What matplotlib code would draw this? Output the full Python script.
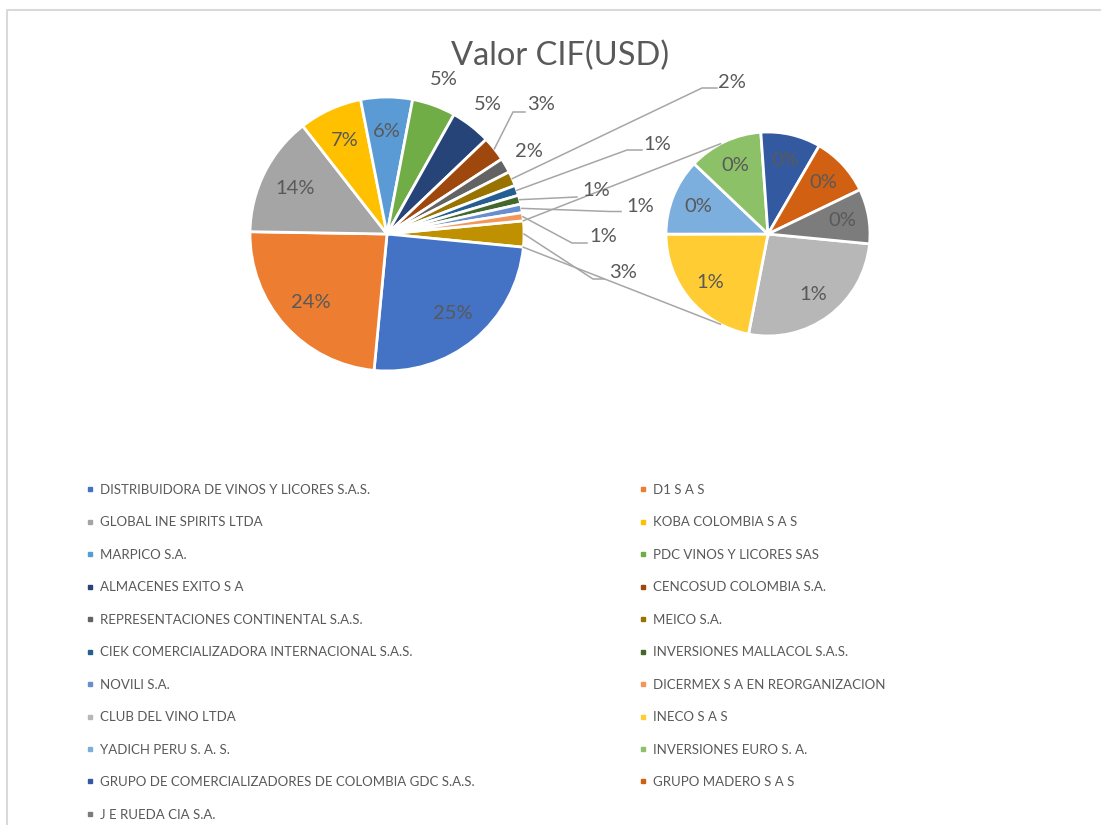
import numpy as np
import matplotlib
matplotlib.use("Agg")
import matplotlib.pyplot as plt
from matplotlib.lines import Line2D

# datos (porcentaje aproximado del valor CIF)
empresas = [
    "DISTRIBUIDORA DE VINOS Y LICORES S.A.S.", "D1 S A S",
    "GLOBAL INE SPIRITS LTDA", "KOBA COLOMBIA S A S",
    "MARPICO S.A.", "PDC VINOS Y LICORES SAS",
    "ALMACENES EXITO S A", "CENCOSUD COLOMBIA S.A.",
    "REPRESENTACIONES CONTINENTAL S.A.S.", "MEICO S.A.",
    "CIEK COMERCIALIZADORA INTERNACIONAL S.A.S.", "INVERSIONES MALLACOL S.A.S.",
    "NOVILI S.A.", "DICERMEX S A EN REORGANIZACION",
    "CLUB DEL VINO LTDA", "INECO S A S",
    "YADICH PERU S. A. S.", "INVERSIONES EURO S. A.",
    "GRUPO DE COMERCIALIZADORES DE COLOMBIA GDC S.A.S.", "GRUPO MADERO S A S",
    "J E RUEDA CIA S.A.",
]
valores = [24.8, 23.6, 14.1, 7.4, 6.05, 5.1, 4.7, 2.9, 1.72, 1.7, 1.2, 1.05,
           1.0, 0.95, 0.81, 0.67, 0.37, 0.36, 0.29, 0.29, 0.265]
colores = ["#4472C4", "#ED7D31", "#A5A5A5", "#FFC000", "#5B9BD5", "#70AD47",
           "#264478", "#9E480E", "#636363", "#997300", "#255E91", "#43682B",
           "#698ED0", "#F1975A", "#B7B7B7", "#FFCD33", "#7CAFDD", "#8CC168",
           "#335AA1", "#D26012", "#7C7C7C"]
color_otros = "#BF9000"
n_principal = 14

W, H = 1101, 825
fig = plt.figure(figsize=(W / 100, H / 100), dpi=100)
ax = fig.add_axes([0, 0, 1, 1])

def py(y):
    return H - y

gris_txt = "#595959"
gris_lin = "#A6A6A6"
fuente = "Lato"

total = sum(valores)
principal = valores[:n_principal]
secundario = valores[n_principal:]
otros = sum(secundario)

c1, r1 = (387, py(234)), 137
c2, r2 = (768, py(234)), 102
medio = 360 * otros / total / 2

borde = dict(edgecolor="white", linewidth=2)
w1, _ = ax.pie([otros] + principal, colors=[color_otros] + colores[:n_principal],
               startangle=medio, counterclock=False, center=c1, radius=r1,
               wedgeprops=borde)
w2, _ = ax.pie(secundario, colors=colores[n_principal:], startangle=-medio,
               counterclock=False, center=c2, radius=r2, wedgeprops=borde)

def pct(v):
    return "%d%%" % int(np.floor(v / total * 100 + 0.5))

def punto(c, r, ang):
    a = np.radians(ang)
    return c[0] + r * np.cos(a), c[1] + r * np.sin(a)

def ang_medio(w):
    return 0.5 * (w.theta1 + w.theta2)

kw = dict(ha="center", va="center", fontsize=14.5, color=gris_txt, family=fuente)

# etiquetas dentro / fuera sin guia
for i in range(n_principal):
    w = w1[i + 1]
    if i < 5:
        x, y = punto(c1, 0.75 * r1, ang_medio(w))
        ax.text(x, y, pct(principal[i]), **kw)
    elif i in (5, 6, 8):
        x, y = punto(c1, 1.2 * r1, ang_medio(w))
        ax.text(x, y, pct(principal[i]), **kw)

for i, w in enumerate(w2):
    x, y = punto(c2, 0.74 * r2, ang_medio(w))
    ax.text(x, y, pct(secundario[i]), **kw)

# etiquetas con linea guia: indice -> (texto x, y, codo x, y, fin x)
guias = {
    7: (541, 104, 513, 112, 525),
    9: (732, 82, 702, 88, 717),
    10: (657, 145, 627, 150, 642),
    11: (596, 190, 577, 197, 577),
    12: (640, 207, 610, 211.5, 621),
    13: (603, 237, 572, 243, 587),
    -1: (623, 272, 593, 279, 604),
}
for i, (tx, ty, ex, ey, fx) in guias.items():
    if i == -1:
        w, v = w1[0], otros
    else:
        w, v = w1[i + 1], principal[i]
    sx, sy = punto(c1, r1, ang_medio(w))
    ax.plot([sx, ex, fx], [sy, py(ey), py(ey)], color=gris_lin, lw=1.1,
            solid_joinstyle="miter")
    ax.text(tx, py(ty), pct(v), **kw)

# lineas de union entre los dos pasteles
for s in (1, -1):
    x0, y0 = punto(c1, r1, s * medio)
    x1, y1 = punto(c2, r2, s * 117.8)
    ax.plot([x0, x1], [y0, y1], color=gris_lin, lw=1.1)

ax.text(560, py(56), "Valor CIF(USD)", ha="center", va="center",
        fontsize=23.5, color=gris_txt, family=fuente)

# borde del area del grafico
ax.plot([6.5, 6.5, W], [0, py(9.5), py(9.5)], color="#D9D9D9", lw=1.5,
        clip_on=False)

# leyenda en dos columnas (filas: 1-2, 3-4, ...)
handles = [Line2D([], [], ls="none", marker="s", markersize=3,
                  markerfacecolor=c, markeredgecolor=c) for c in colores]
ley_kw = dict(loc="upper left", frameon=False, borderpad=0, borderaxespad=0,
              handlelength=0.6, handletextpad=0.45, labelspacing=1.55,
              prop=dict(family=fuente, size=9.5), labelcolor=gris_txt)
izq = list(range(0, len(empresas), 2))
der = list(range(1, len(empresas), 2))
l1 = ax.legend([handles[i] for i in izq], [empresas[i] for i in izq],
               bbox_to_anchor=(86 / W, 1 - 484 / H), bbox_transform=fig.transFigure,
               **ley_kw)
ax.add_artist(l1)
ax.legend([handles[i] for i in der], [empresas[i] for i in der],
          bbox_to_anchor=(639 / W, 1 - 484 / H), bbox_transform=fig.transFigure,
          **ley_kw)

ax.set_xlim(0, W)
ax.set_ylim(0, H)
ax.set_aspect("equal")
ax.axis("off")

fig.savefig("out.png", dpi=100, facecolor="white")
